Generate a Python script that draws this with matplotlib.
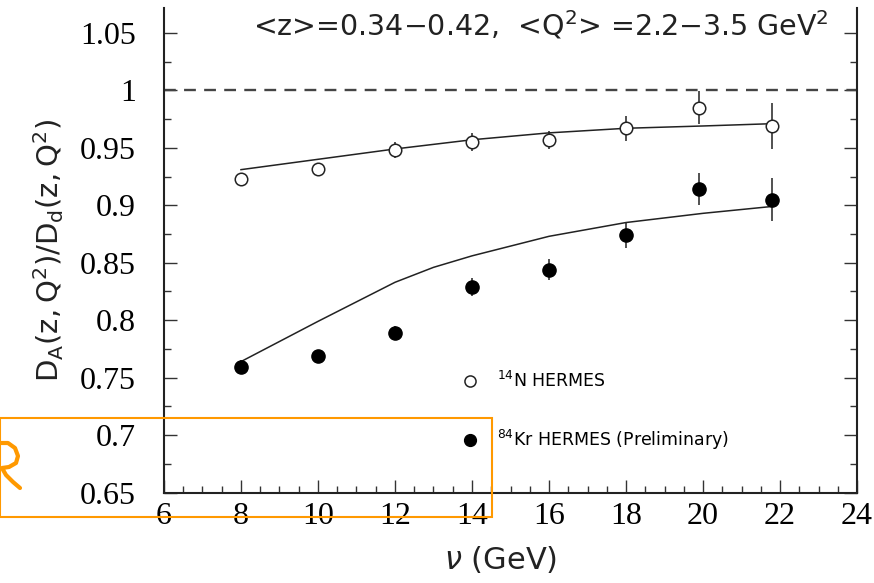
import matplotlib
matplotlib.use("Agg")
import matplotlib.pyplot as plt
from matplotlib.lines import Line2D
from matplotlib.patches import Rectangle
import numpy as np

# measured points
nu_pts = [8.0, 10.0, 12.0, 14.0, 16.0, 18.0, 19.9, 21.8]
n_ratio = [0.923, 0.932, 0.948, 0.955, 0.957, 0.967, 0.985, 0.969]
n_err = [0.004, 0.005, 0.007, 0.008, 0.008, 0.011, 0.014, 0.020]
kr_ratio = [0.759, 0.769, 0.789, 0.829, 0.844, 0.874, 0.914, 0.905]
kr_err = [0.006, 0.005, 0.006, 0.008, 0.009, 0.011, 0.014, 0.019]

# model curves
nu_curve = [8.0, 10.0, 12.0, 13.0, 14.0, 16.0, 18.0, 20.0, 21.8]
n_curve = [0.931, 0.940, 0.949, 0.953, 0.957, 0.963, 0.967, 0.969, 0.971]
kr_curve = [0.764, 0.799, 0.833, 0.846, 0.856, 0.873, 0.885, 0.893, 0.899]

xticks = [6, 8, 10, 12, 14, 16, 18, 20, 22, 24]
yticks = [0.65, 0.7, 0.75, 0.8, 0.85, 0.9, 0.95, 1.0, 1.05]
ytick_labels = ["0.65", "0.7", "0.75", "0.8", "0.85", "0.9", "0.95", "1", "1.05"]

plt.rcParams['mathtext.fontset'] = 'custom'
plt.rcParams['mathtext.rm'] = 'DejaVu Sans'
plt.rcParams['mathtext.it'] = 'DejaVu Sans:italic'

fig = plt.figure(figsize=(8.74, 5.83), dpi=100)
ax = fig.add_axes([0.1876, 0.155, 0.793, 0.831])

ax.axhline(1.0, color='#444444', lw=1.7, ls=(0, (5, 3.5)))

ax.plot(nu_curve, n_curve, color='#222222', lw=1.1)
ax.plot(nu_curve, kr_curve, color='#222222', lw=1.1)
ax.errorbar(nu_pts, n_ratio, yerr=n_err, fmt='o', ms=9, mfc='white', mec='#222222',
            mew=1.1, ecolor='#222222', elinewidth=1.1, capsize=0)
ax.errorbar(nu_pts, kr_ratio, yerr=kr_err, fmt='o', ms=9.5, mfc='black', mec='black',
            ecolor='#222222', elinewidth=1.1, capsize=0)

ax.set_xlim(6, 24)
ax.set_ylim(0.65, 1.0715)
ax.set_xticks(xticks)
ax.set_xticks(np.arange(6, 24.01, 0.5), minor=True)
ax.set_yticks(yticks)
ax.set_yticklabels(ytick_labels)
ax.set_yticks(np.arange(0.65, 1.07, 0.025), minor=True)

for lab in ax.get_xticklabels() + ax.get_yticklabels():
    lab.set_family('Liberation Serif')
    lab.set_fontsize(23)

ax.tick_params(which='both', direction='in', right=True, top=False, color='#333333', width=1.0)
ax.tick_params(which='major', length=9.5)
ax.tick_params(which='minor', length=5)
ax.tick_params(axis='y', pad=20)
ax.tick_params(axis='x', pad=7)
ax.spines['top'].set_visible(False)
for s in ['left', 'right', 'bottom']:
    ax.spines[s].set_linewidth(1.5)
    ax.spines[s].set_color('#222222')

ax.set_ylabel(r'$\mathregular{D_A(z,Q^2)/D_d(z,Q^2)}$', fontsize=21, family='DejaVu Sans',
              color='#222222', labelpad=10)
ax.set_xlabel(r'$\nu$ (GeV)', fontsize=22, family='DejaVu Sans', color='#222222', labelpad=7)
ax.xaxis.set_label_coords(0.485, -0.105)

ax.text(0.544, 0.944, r'<z>=0.34$-$0.42,  <Q$^2$> =2.2$-$3.5 GeV$^2$', transform=ax.transAxes,
        ha='center', va='baseline', fontsize=20.5, color='#222222')

handles = [Line2D([], [], ls='none', marker='o', ms=8, mfc='white', mec='#222222', mew=1.1),
           Line2D([], [], ls='none', marker='o', ms=8.5, mfc='black', mec='black')]
labels = [r'$^{14}$N HERMES', r'$^{84}$Kr HERMES (Preliminary)']
ax.legend(handles, labels, loc='upper left', bbox_to_anchor=(0.4286, 0.251), frameon=False,
          fontsize=12.5, handlelength=1.0, handletextpad=1.1, labelspacing=2.1,
          borderpad=0, borderaxespad=0)

# orange overlay box and stroke from the slide
fig.patches.append(Rectangle((0.0, (583 - 517) / 583), 492 / 874, 99 / 583,
                             transform=fig.transFigure, fill=False, ec='#ff9900', lw=1.5))
stroke_x = np.array([0, 8, 15, 18, 16, 9, 2, 6, 13, 20])
stroke_y = np.array([443, 443, 448, 456, 463, 467, 468, 475, 482, 488])
fig.add_artist(Line2D(stroke_x / 874, 1 - stroke_y / 583, transform=fig.transFigure,
                      color='#ff9900', lw=3, solid_capstyle='round', solid_joinstyle='round'))

fig.savefig('out.png', dpi=100)
